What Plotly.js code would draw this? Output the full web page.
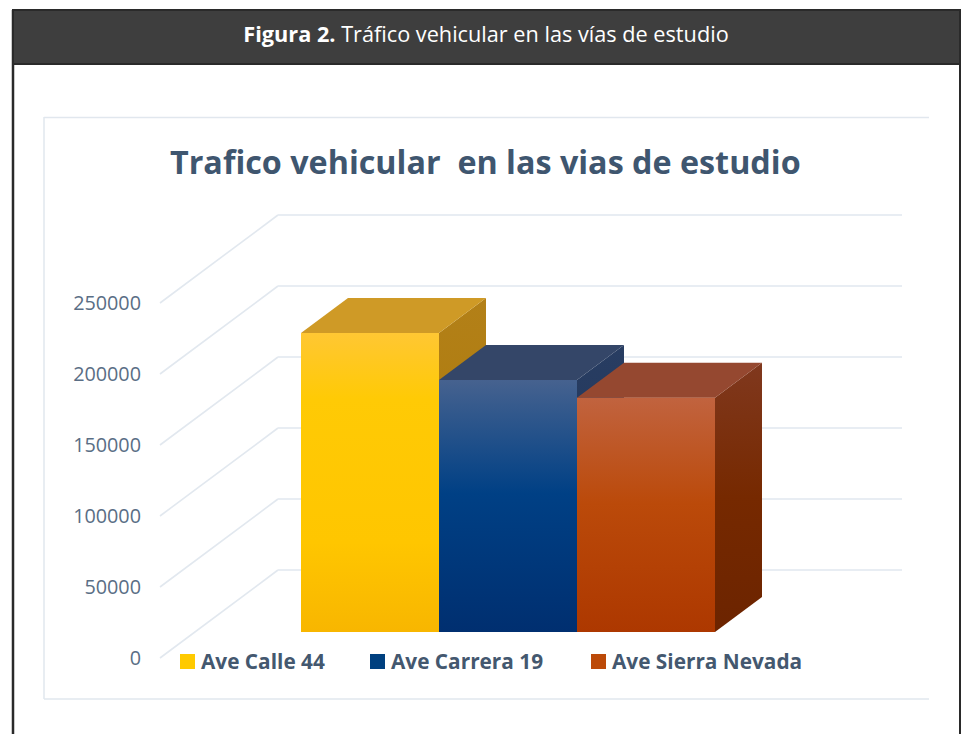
<!DOCTYPE html>
<html>
<head>
<meta charset="utf-8">
<script src="https://cdn.plot.ly/plotly-3.0.1.min.js"></script>
<style>html,body{margin:0;padding:0;background:#fff;overflow:hidden}</style>
</head>
<body>
<div id="chart" style="width:964px;height:734px"></div>
<script>
const categories = ['Ave Calle 44', 'Ave Carrera 19', 'Ave Sierra Nevada'];
const values = [210500, 177500, 165000];
const yTicks = [0, 50000, 100000, 150000, 200000, 250000];
const frontColors = ['#FFCA00', '#00407F', '#BC4A08'];
const frontStops = [
  [[0, '#FFC733'], [0.22, '#FFCA05'], [0.7, '#FFC600'], [1, '#F8B600']],
  [[0, '#46628F'], [0.45, '#004085'], [1, '#002F70']],
  [[0, '#C1633F'], [0.45, '#BB4A0A'], [1, '#AD3800']]
];
const topColors = ['#CF9A26', '#344668', '#954830'];
const sideStops = [
  [[0, '#B38018'], [1, '#A87804']],
  [[0, '#283D62'], [1, '#1F3356']],
  [[0, '#80381E'], [0.5, '#762900'], [1, '#6C2400']]
];
const legendX = [180, 370, 591];

const W = 964, H = 734;
const unitsPerPx = 250000 / 355;
const barPx = 138, firstCentrePx = 370, zeroPx = 658;
const xOf = p => (p - firstCentrePx) / barPx;
const yOfPx = p => (zeroPx - p) * unitsPerPx;
const px = p => p / W, py = p => 1 - p / H;

const base = 26 * unitsPerPx;
const depthX = 47 / barPx, depthY = 35 * unitsPerPx;
const wallDX = 118 / barPx, wallDY = 88 * unitsPerPx;
const wallFront = xOf(160), wallRight = xOf(902);

const traces = [];
categories.forEach((name, i) => {
  traces.push({type: 'bar', name, x: [i], y: [values[i]], base: [base], width: 1,
    marker: {color: frontColors[i], line: {width: 0}}, showlegend: false, hoverinfo: 'x+y'});
});
const face = (xs, ys, fillgradient, fillcolor) => ({
  type: 'scatter', mode: 'none', x: xs, y: ys, fill: 'toself', fillcolor, fillgradient,
  showlegend: false, hoverinfo: 'skip', cliponaxis: false
});
categories.forEach((name, i) => {
  const top = base + values[i], l = i - 0.5, r = i + 0.5;
  traces.push(face([r, r + depthX, r + depthX, r, r], [base, base + depthY, top + depthY, top, base],
    {type: 'vertical', colorscale: sideStops[i], start: top + depthY, stop: base}));
  traces.push(face([l, r, r + depthX, l + depthX, l], [top, top, top + depthY, top + depthY, top], undefined, topColors[i]));
  traces.push(face([l, r, r, l, l], [base, base, top, top, base],
    {type: 'vertical', colorscale: frontStops[i], start: top, stop: base}));
});

const shapes = [];
yTicks.forEach(v => {
  shapes.push({type: 'line', layer: 'below', xref: 'x', yref: 'y', x0: wallFront, x1: wallFront + wallDX,
    y0: v, y1: v + wallDY, line: {color: '#E2E8EF', width: 1.6}});
  shapes.push({type: 'line', layer: 'below', xref: 'x', yref: 'y', x0: wallFront + wallDX, x1: wallRight,
    y0: v + wallDY, y1: v + wallDY, line: {color: '#E8EDF3', width: 2.2}});
});
const rectPx = (x0, y0, x1, y1, fill, lineColor, lw) => ({type: 'rect', layer: 'below', xref: 'paper', yref: 'paper',
  x0: px(x0), x1: px(x1), y0: py(y0), y1: py(y1), fillcolor: fill, line: {color: lineColor, width: lw}});
const linePx = (x0, y0, x1, y1, c, lw) => ({type: 'line', layer: 'below', xref: 'paper', yref: 'paper',
  x0: px(x0), x1: px(x1), y0: py(y0), y1: py(y1), line: {color: c, width: lw}});
shapes.unshift(
  linePx(13, 10, 13, 734, '#2A2A2A', 2.5),
  linePx(960, 10, 960, 734, '#2A2A2A', 2),
  rectPx(13, 10, 960, 64, '#3E3E3E', '#2A2A2A', 2),
  linePx(44, 117.5, 929, 117.5, '#E1E7EE', 1.5),
  linePx(44, 117, 44, 699, '#E1E7EE', 1.5),
  linePx(44, 699, 929, 699, '#E1E7EE', 1.5)
);
const legendFont = {family: 'Open Sans, sans-serif', size: 20.8, color: '#44586F'};
const annotations = [{
  xref: 'paper', yref: 'paper', x: px(485.5), y: py(161), xanchor: 'center', yanchor: 'middle', showarrow: false,
  text: '<b>Trafico vehicular  en las vias de estudio</b>',
  font: {family: 'Open Sans, sans-serif', size: 32.3, color: '#3F566F'}
}];
categories.forEach((name, i) => {
  shapes.push({type: 'rect', xref: 'paper', yref: 'paper', x0: px(legendX[i]), x1: px(legendX[i] + 15),
    y0: py(654), y1: py(669), fillcolor: frontColors[i], line: {width: 0}});
  annotations.push({xref: 'paper', yref: 'paper', x: px(legendX[i] + 19), y: py(661), xanchor: 'left', yanchor: 'middle',
    showarrow: false, text: '<b>' + name + '</b>', font: legendFont});
});

const layout = {
  width: W, height: H, margin: {l: 0, r: 0, t: 0, b: 0},
  paper_bgcolor: '#FFFFFF', plot_bgcolor: 'rgba(0,0,0,0)', showlegend: false, barmode: 'overlay',
  title: {text: '<b>Figura 2.</b> Tráfico vehicular en las vías de estudio',
    x: 486 / W, xanchor: 'center', y: py(34), yanchor: 'middle',
    font: {family: 'Open Sans, sans-serif', size: 21.7, color: '#FFFFFF'}},
  xaxis: {range: [xOf(0), xOf(W)], domain: [0, 1], showgrid: false, zeroline: false, showline: false, showticklabels: false, ticks: ''},
  yaxis: {range: [yOfPx(H), yOfPx(0)], domain: [0, 1], anchor: 'free', position: px(141), side: 'left',
    tickmode: 'array', tickvals: yTicks, ticktext: yTicks.map(String), showgrid: false, zeroline: false, showline: false, ticks: '',
    tickfont: {family: 'Open Sans, sans-serif', size: 19.8, color: '#5A6E85'}},
  shapes, annotations
};
Plotly.newPlot('chart', traces, layout, {displayModeBar: false});
</script>
</body>
</html>
